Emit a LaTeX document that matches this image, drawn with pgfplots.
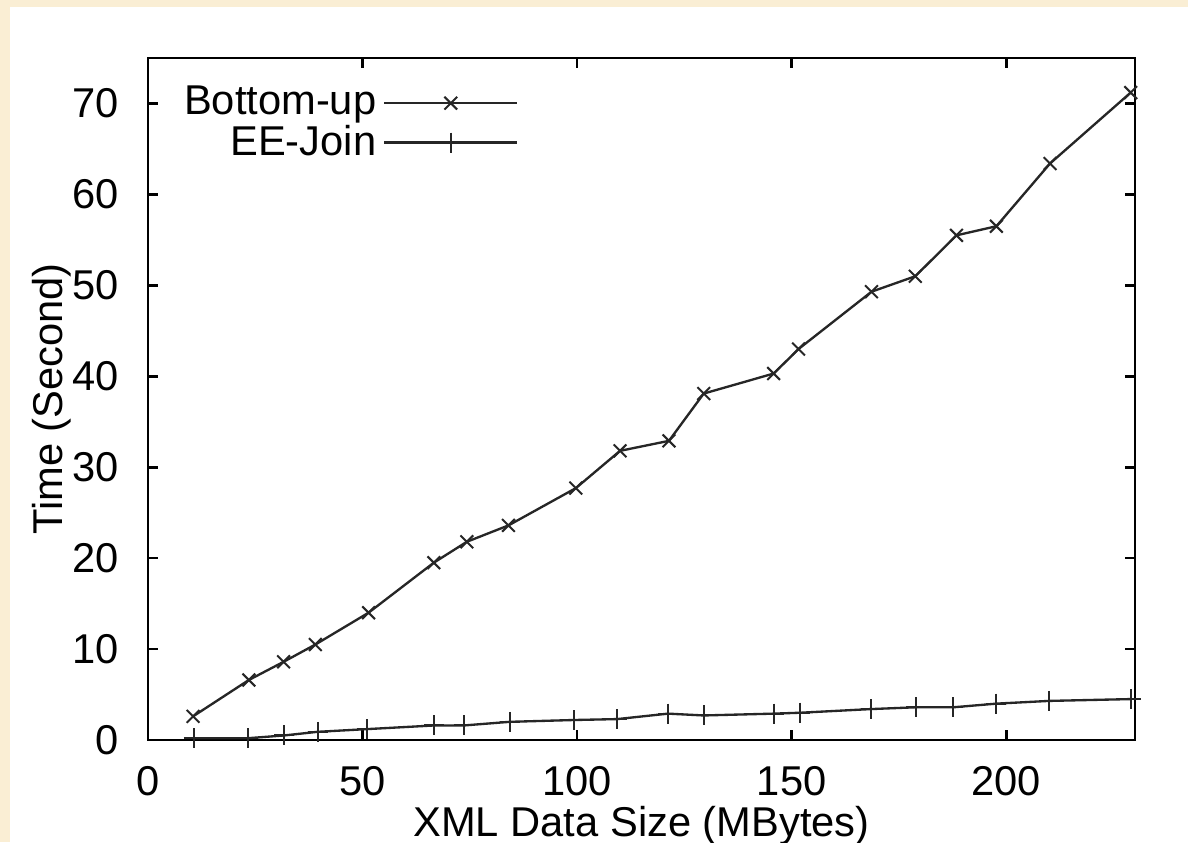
\documentclass[border=0pt]{standalone}
\usepackage{fontspec}
\setmainfont{Liberation Sans}
\usepackage{pgfplots}
\pgfplotsset{compat=1.18}
\definecolor{bgbeige}{RGB}{250,238,212}
\begin{document}
\begin{tikzpicture}[font=\fontsize{12.5}{15}\selectfont]
\fill[bgbeige] (0,0) rectangle (356.4pt,252.6pt);
\fill[white] (3pt,0) rectangle (356.4pt,250.5pt);
\begin{axis}[
  at={(44.4pt,30.6pt)}, anchor=south west,
  scale only axis, width=296.1pt, height=204.6pt,
  xmin=0, xmax=230, ymin=0, ymax=75,
  xtick={0,50,100,150,200}, ytick={0,10,...,70},
  axis line style={line width=0.8pt},
  every axis/.append style={line width=0.8pt},
  major tick style={line width=0.8pt, black}, major tick length=3pt,
  tick align=inside,
  /pgf/number format/assume math mode=true,
  ticklabel style={font=\fontsize{12.5}{15}\selectfont},
  xticklabel style={inner sep=0pt, anchor=north, yshift=-7.5pt},
  yticklabel style={inner sep=0pt, anchor=east, xshift=-8.4pt},
  xlabel={XML Data Size (MBytes)}, ylabel={Time (Second)},
  every axis x label/.style={at={(axis description cs:0.5,0)}, anchor=north, inner sep=0pt, yshift=-19.5pt},
  every axis y label/.style={at={(axis description cs:-0.0973,0.5)}, rotate=90, anchor=center, inner sep=0pt},
  legend style={at={(0.387,0.98)}, anchor=north east, draw=none, fill=none,
    legend plot pos=right, legend cell align=right, row sep=-2.5pt,
    font=\fontsize{12.5}{15}\selectfont},
  legend image code/.code={\draw[mark repeat=2,mark phase=2] plot coordinates {(0pt,0pt)(20pt,0pt)(40pt,0pt)};},
]
\addplot[black!85, line width=0.7pt, mark=x, mark size=2.7pt, mark options={line width=0.6pt}] coordinates {
(10.5,2.6) (23.5,6.6) (31.6,8.6) (39,10.5) (51.4,14.0) (66.6,19.5) (74.3,21.8) (84,23.6)
(99.7,27.7) (110,31.8) (121.4,32.9) (129.5,38.1) (145.8,40.3) (151.6,43.0) (168.6,49.3)
(178.8,51.0) (188.4,55.5) (197.7,56.5) (210.2,63.4) (229,71.2)
};
\addlegendentry{Bottom-up}
\addplot[black!85, line width=0.7pt, mark=+, mark size=3pt, mark options={line width=0.6pt}] coordinates {
(10.7,0.2) (23.3,0.2) (31.7,0.5) (39.5,0.9) (51.1,1.2) (66.7,1.6) (73.6,1.6) (84.3,2.0)
(99.3,2.2) (109.3,2.3) (121.2,2.9) (129.5,2.7) (145.8,2.9) (152,3.0) (168.4,3.4)
(179,3.6) (187.7,3.6) (197.7,4.0) (210,4.3) (229,4.5)
};
\addlegendentry{EE-Join}
\end{axis}
\pgfresetboundingbox
\useasboundingbox (0,0) rectangle (356.4pt,252.6pt);
\end{tikzpicture}
\end{document}
